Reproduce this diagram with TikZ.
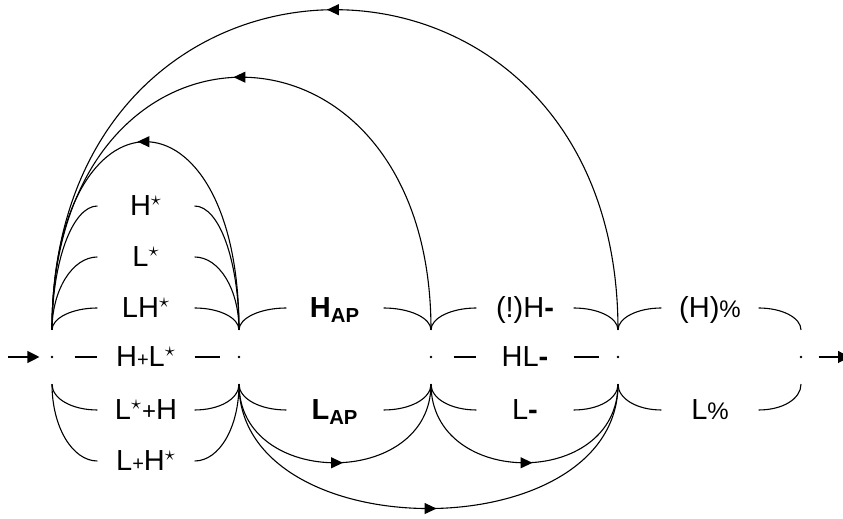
\documentclass[tikz,border=0pt]{standalone}
\usepackage{fontspec}
\setmainfont{Liberation Sans}
\usetikzlibrary{arrows.meta,decorations.markings}

\tikzset{
	statedot/.style={rectangle, inner sep=0pt, minimum width=2pt, minimum height=26.5pt,
		path picture={\fill (path picture bounding box.center) circle (0.7pt);}},
	lbl/.style={inner sep=0pt, minimum width=48pt, text height=10pt, text depth=0pt,
		font=\fontsize{14.5}{17}\selectfont},
	arr/.style={-{Triangle[length=6pt,width=6pt]}},
	midarrow/.style={postaction={decorate}, decoration={markings,
		mark=at position 0.5 with {\pgftransformxshift{4pt}\arrow{Triangle[length=6pt,width=5.5pt]}}}}
}

\begin{document}
\begin{tikzpicture}[x=0.5pt,y=0.5pt,line width=0.55pt]
			\useasboundingbox (0,0) rectangle (843,519);
			% states
			\node[statedot] (q0) at (52,162) {};
			\node[statedot] (q1) at (239,162) {};
			\node[statedot] (q2) at (431,162) {};
			\node[statedot] (q3) at (618,162) {};
			\node[statedot] (q4) at (801,162) {};
			\coordinate (entry) at (8,162);
			\coordinate (exit) at (850,162);
			% pitch accents
			\node[lbl] (hs) at (146,313) {H$^\star$};
			\node[lbl] (ls) at (146,262) {L$^\star$};
			\node[lbl] (lhs) at (146,211) {LH$^\star$};
			\node[lbl] (hpls) at (146,162) {H{\normalsize+}L$^\star$};
			\node[lbl] (lsph) at (146,109) {L$^\star${\large+}H};
			\node[lbl] (lphs) at (146,58) {L{\normalsize+}H$^\star$};
			% phrase accents and boundary tones
			\node[lbl] (hap) at (335,211) {\textbf{H}\textsubscript{\textbf{AP}}};
			\node[lbl] (lap) at (335,109) {\textbf{L}\textsubscript{\textbf{AP}}};
			\node[lbl] (hbang) at (525,211) {(!)H\textbf{-}};
			\node[lbl] (hlm) at (525,162) {HL\textbf{-}};
			\node[lbl] (lm) at (525,109) {L\textbf{-}};
			\node[lbl] (hpct) at (710,211) {(H){\large\%}};
			\node[lbl] (lpct) at (710,109) {L{\large\%}};
			% in and out
			\draw[arr,shorten >=5pt] (entry) -- (q0);
			\draw[arr,shorten <=7.5pt] (q4) -- (exit);
			% first column
			\draw (q0.north) .. controls +(0,68) and +(-25,0) .. (hs.west);
			\draw (hs.east) .. controls +(25,0) and +(0,68) .. (q1.north);
			\draw (q0.north) .. controls +(0,40) and +(-25,0) .. (ls.west);
			\draw (ls.east) .. controls +(25,0) and +(0,40) .. (q1.north);
			\draw (q0.north) .. controls +(0,12) and +(-25,0) .. (lhs.west);
			\draw (lhs.east) .. controls +(25,0) and +(0,12) .. (q1.north);
			\draw[shorten <=10pt] (q0) -- (hpls);
			\draw[shorten >=8pt] (hpls) -- (q1);
			\draw (q0.south) .. controls +(0,-15) and +(-25,0) .. (lsph.west);
			\draw (lsph.east) .. controls +(25,0) and +(0,-15) .. (q1.south);
			\draw (q0.south) .. controls +(0,-43) and +(-25,0) .. (lphs.west);
			\draw (lphs.east) .. controls +(25,0) and +(0,-43) .. (q1.south);
			% second column
			\draw (q1.north) .. controls +(0,12) and +(-26,0) .. (hap.west);
			\draw (hap.east) .. controls +(26,0) and +(0,12) .. (q2.north);
			\draw (q1.south) .. controls +(0,-15) and +(-26,0) .. (lap.west);
			\draw (lap.east) .. controls +(26,0) and +(0,-15) .. (q2.south);
			% third column
			\draw (q2.north) .. controls +(0,12) and +(-25,0) .. (hbang.west);
			\draw (hbang.east) .. controls +(25,0) and +(0,12) .. (q3.north);
			\draw[shorten <=10pt] (q2) -- (hlm);
			\draw[shorten >=8pt] (hlm) -- (q3);
			\draw (q2.south) .. controls +(0,-15) and +(-25,0) .. (lm.west);
			\draw (lm.east) .. controls +(25,0) and +(0,-15) .. (q3.south);
			% fourth column
			\draw (q3.north) .. controls +(0,12) and +(-24,0) .. (hpct.west);
			\draw (hpct.east) .. controls +(24,0) and +(0,12) .. (q4.north);
			\draw (q3.south) .. controls +(0,-15) and +(-24,0) .. (lpct.west);
			\draw (lpct.east) .. controls +(24,0) and +(0,-15) .. (q4.south);
			% loops back and skips
			\draw[midarrow] (q1.north) .. controls +(0,251) and +(0,251) .. (q0.north);
			\draw[midarrow] (q2.north) .. controls +(0,337) and +(0,337) .. (q0.north);
			\draw[midarrow] (q3.north) .. controls +(0,427) and +(0,427) .. (q0.north);
			\draw[midarrow] (q1.south) .. controls +(0,-105) and +(0,-105) .. (q2.south);
			\draw[midarrow] (q2.south) .. controls +(0,-105) and +(0,-105) .. (q3.south);
			\draw[midarrow] (q1.south) .. controls +(0,-166) and +(0,-166) .. (q3.south);
	\end{tikzpicture}
\end{document}
